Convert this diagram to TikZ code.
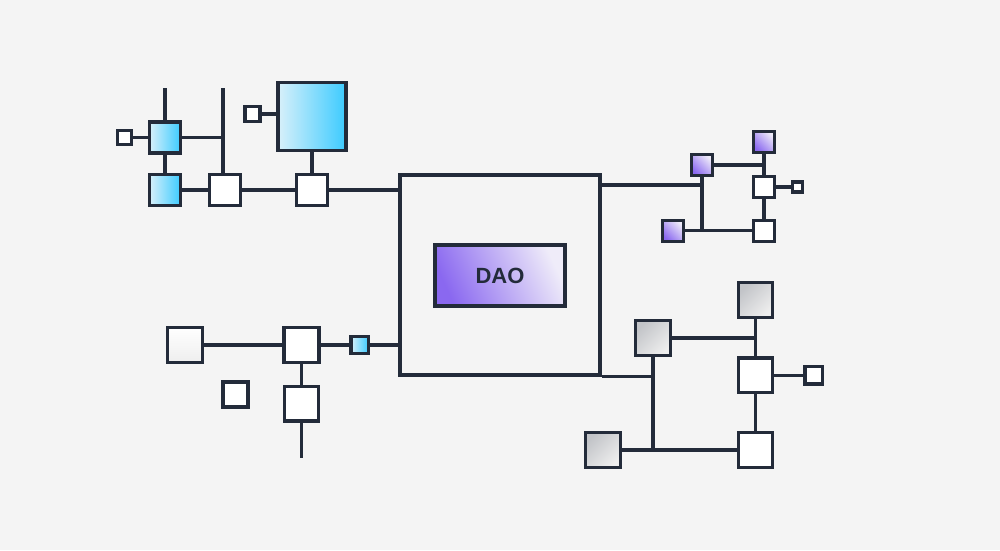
\documentclass[tikz,border=0pt]{standalone}
\usepackage{fontspec}
\setmainfont{Liberation Sans}
\pgfdeclarelayer{bglay}
\pgfdeclarelayer{wirelay}
\pgfsetlayers{bglay,wirelay,main}
\begin{document}
\begin{tikzpicture}[x=1pt,y=-1pt,
  ink/.style={line width=3.2pt,draw=inkc},
  box/.style={ink,rectangle,inner sep=0pt,outer sep=0pt,minimum width=#1,minimum height=#1,fill=white},
  blue/.style={left color=blueL,right color=blueR},
  purp/.style={top color=purpD,bottom color=purpL,shading angle=135},
  grey/.style={top color=greyD,bottom color=greyL,shading angle=45},
  wgrad/.style={top color=white,bottom color=whiteD},
  wire/.style={line width=3.4pt,draw=inkc}]
\definecolor{inkc}{HTML}{232B3A}
\definecolor{bgc}{HTML}{F4F4F4}
\definecolor{blueL}{HTML}{D8F0FA}
\definecolor{blueR}{HTML}{3CCBFF}
\definecolor{purpD}{HTML}{8A68F0}
\definecolor{purpL}{HTML}{EFECF9}
\definecolor{greyD}{HTML}{C2C4C8}
\definecolor{greyL}{HTML}{EEEEEE}
\definecolor{whiteD}{HTML}{EEEEEE}
\begin{pgfonlayer}{bglay}
\fill[bgc] (0,0) rectangle (1000,550);
\end{pgfonlayer}
\useasboundingbox (0,0) rectangle (1000,550);

% nodes
\node[box=14pt] (sqa) at (124.5,137.5) {};
\node[box=31pt,blue] (b1) at (165,137.5) {};
\node[box=31pt,blue] (b2) at (165,190) {};
\node[box=31pt] (w3) at (225,190) {};
\node[box=31pt] (w4) at (312,190) {};
\node[box=68pt,blue] (bigb) at (312,116.5) {};
\node[box=15pt] (sqb) at (252.5,114) {};
\node[ink,rectangle,inner sep=0pt,minimum width=200pt,minimum height=200pt,fill=bgc] (frame) at (500,275) {};
\node[ink,rectangle,inner sep=0pt,minimum width=130pt,minimum height=61pt,top color=purpD,bottom color=purpL,shading angle=115,text=inkc,font=\bfseries\fontsize{22}{24}\selectfont] (dao) at (500,275.5) {DAO};
\node[box=21pt,purp] (pA) at (702,165) {};
\node[box=21pt,purp] (pB) at (764,141.7) {};
\node[box=21pt] (wC) at (764,187) {};
\node[box=10pt] (t1) at (797.7,187) {};
\node[box=21pt,purp] (pE) at (673,230.7) {};
\node[box=21pt] (wD) at (764,230.7) {};
\node[box=35pt,wgrad] (F) at (185,345) {};
\node[box=35pt] (G) at (301.5,345) {};
\node[box=17.5pt,blue] (sb) at (359.7,345) {};
\node[box=25pt] (H) at (235.5,394.5) {};
\node[box=34.5pt] (I) at (301.5,403.7) {};
\node[box=34.5pt,grey] (J) at (653,338) {};
\node[box=34.5pt,grey] (K) at (755.5,300) {};
\node[box=34.5pt] (L) at (755.5,375.3) {};
\node[box=17.5pt] (t2) at (813.7,375.3) {};
\node[box=34.5pt] (M) at (755.5,450) {};
\node[box=34.5pt,grey] (N) at (603,450) {};

\coordinate (top1) at (165,88);
\coordinate (top2) at (223,88);
\coordinate (bot1) at (301.5,457.7);

% wires (behind nodes)
\begin{pgfonlayer}{wirelay}
\draw[wire] (sqa.east) -- (b1.west);
\draw[wire] (top1) -- (b1.north);
\draw[wire] (b1.south) -- (b2.north);
\draw[wire] (b2.east) -- (w3.west);
\draw[wire] (w3.east) -- (w4.west);
\draw[wire] (top2) -- (top2 |- w3.north);
\draw[wire] (b1.east) -- (b1.east -| top2);
\draw[wire] (bigb.south) -- (w4.north);
\draw[wire] (sqb.east) -- (sqb.east -| bigb.west);
\draw[wire] (w4.east) -- (w4.east -| frame.west);
% right top
\draw[wire] ([yshift=-11.7pt]frame.north east) -- ([yshift=-11.7pt]frame.north east -| pA.south);
\draw[wire] (pA.south) -- (pA.south |- pE.east);
\draw[wire] (pE.east) -- (wD.west);
\draw[wire] (pA.east) -- (pA.east -| pB.south);
\draw[wire] (pB.south) -- (wC.north);
\draw[wire] (wC.south) -- (wD.north);
\draw[wire] (wC.east) -- (t1.west);
% left bottom
\draw[wire] (F.east) -- (G.west);
\draw[wire] (G.east) -- (sb.west);
\draw[wire] (sb.east) -- (sb.east -| frame.west);
\draw[wire] (G.south) -- (I.north);
\draw[wire] (I.south) -- (bot1);
% right bottom
\draw[wire] (frame.south east) -- (frame.south east -| J.south);
\draw[wire] (J.south) -- (J.south |- N.east);
\draw[wire] (N.east) -- (M.west);
\draw[wire] (J.east) -- (J.east -| K.south);
\draw[wire] (K.south) -- (L.north);
\draw[wire] (L.south) -- (M.north);
\draw[wire] (L.east) -- (t2.west);
\end{pgfonlayer}
\end{tikzpicture}
\end{document}
